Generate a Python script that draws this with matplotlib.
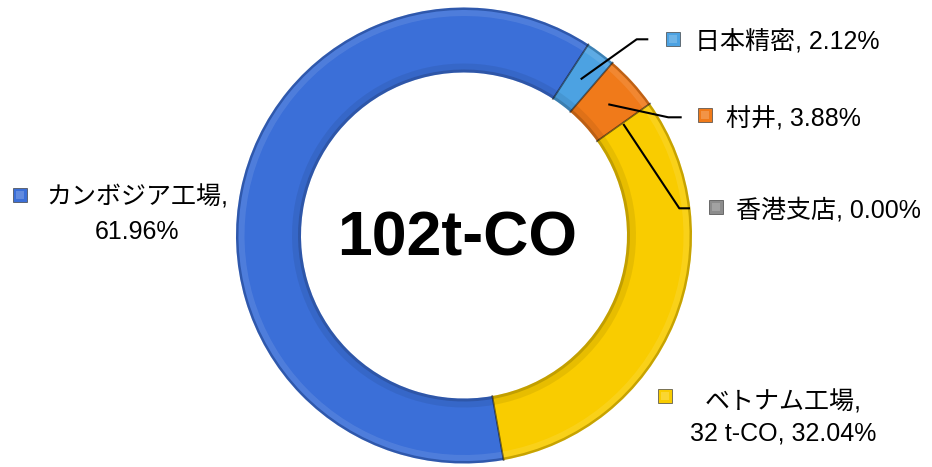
import matplotlib
matplotlib.use("Agg")
import matplotlib.pyplot as plt
from matplotlib.patches import Wedge, Rectangle
import numpy as np

# ---- data ----
categories = ["カンボジア工場", "日本精密", "村井", "香港支店", "ベトナム工場"]
shares = [61.96, 2.12, 3.88, 0.00, 32.04]
vietnam_tco = 32
total_label = "102t-CO"
colors = ["#3B6FD8", "#4CA2E2", "#F07A1A", "#8C8C8C", "#F9CC00"]

W, H = 932, 467
fig = plt.figure(figsize=(W / 100, H / 100), dpi=100)
ax = fig.add_axes([0, 0, 1, 1])

def Y(y):
    return H - y

cx, cy = 464, Y(235.5)
R, ring = 228, 65

wedges, _ = ax.pie(shares, colors=colors, radius=R, center=(cx, cy),
                   startangle=-80, counterclock=False,
                   wedgeprops=dict(width=ring, linewidth=0), frame=True)
ax.set_xlim(0, W)
ax.set_ylim(0, H)
ax.set_aspect("auto")
ax.axis("off")

# bevel shading
for w in wedges:
    t1, t2 = w.theta1, w.theta2
    if abs(t2 - t1) < 1e-6:
        continue
    ax.add_patch(Wedge((cx, cy), R, t1, t2, width=2.5, color="black", alpha=0.2, lw=0))
    ax.add_patch(Wedge((cx, cy), R - 2.5, t1, t2, width=6, color="white", alpha=0.1, lw=0))
    ax.add_patch(Wedge((cx, cy), R - ring + 3, t1, t2, width=3, color="black", alpha=0.22, lw=0))
    ax.add_patch(Wedge((cx, cy), R - ring + 9, t1, t2, width=6, color="black", alpha=0.07, lw=0))
    for t in (t1, t2):
        a = np.deg2rad(t)
        ax.plot([cx + (R - ring) * np.cos(a), cx + R * np.cos(a)],
                [cy + (R - ring) * np.sin(a), cy + R * np.sin(a)],
                color="black", alpha=0.3, lw=1.2)

fam = ["Liberation Sans", "Noto Sans CJK JP"]
fs = 18

def marker(x, y, c):
    s = 14
    ax.add_patch(Rectangle((x - s / 2, Y(y) - s / 2), s, s, facecolor=c,
                           edgecolor="#444444", lw=0.5))
    ax.add_patch(Rectangle((x - s / 2 + 3, Y(y) - s / 2 + 3), s - 6, s - 6,
                           facecolor="white", alpha=0.2, lw=0))

# leader lines
leaders = [
    [(580.7, 79.3), (636.7, 39.3), (648.3, 39.3)],
    [(608.3, 104.3), (668.3, 117.3), (681.7, 117.3)],
    [(623.3, 124.0), (679.3, 208.3), (690.0, 208.3)],
]
for pts in leaders:
    xs = [p[0] for p in pts]
    ys = [Y(p[1]) for p in pts]
    ax.plot(xs, ys, color="black", lw=1.5, solid_capstyle="butt")

# labels
marker(672.5, 38.5, colors[1])
ax.text(695, Y(41.5), f"{categories[1]}, {shares[1]:.2f}%", fontsize=fs,
        family=fam, ha="left", va="center")

marker(705, 115, colors[2])
ax.text(726, Y(119.5), f"{categories[2]}, {shares[2]:.2f}%", fontsize=fs,
        family=fam, ha="left", va="center")

marker(716, 206.5, colors[3])
ax.text(736, Y(210), f"{categories[3]}, {shares[3]:.2f}%", fontsize=fs,
        family=fam, ha="left", va="center")

marker(20, 194.5, colors[0])
ax.text(137, Y(197), f"{categories[0]},", fontsize=fs, family=fam,
        ha="center", va="center")
ax.text(137, Y(232), f"{shares[0]:.2f}%", fontsize=fs, family=fam,
        ha="center", va="center")

marker(665, 395.5, colors[4])
ax.text(783.5, Y(402), f"{categories[4]},", fontsize=fs, family=fam,
        ha="center", va="center")
ax.text(783.5, Y(433), f"{vietnam_tco} t-CO, {shares[4]:.2f}%", fontsize=fs,
        family=fam, ha="center", va="center")

# centre total
ax.text(457, Y(238.5), total_label, fontsize=45, fontweight="bold",
        family=["Liberation Sans", "DejaVu Sans"], ha="center", va="center")

fig.savefig("out.png", dpi=100)
